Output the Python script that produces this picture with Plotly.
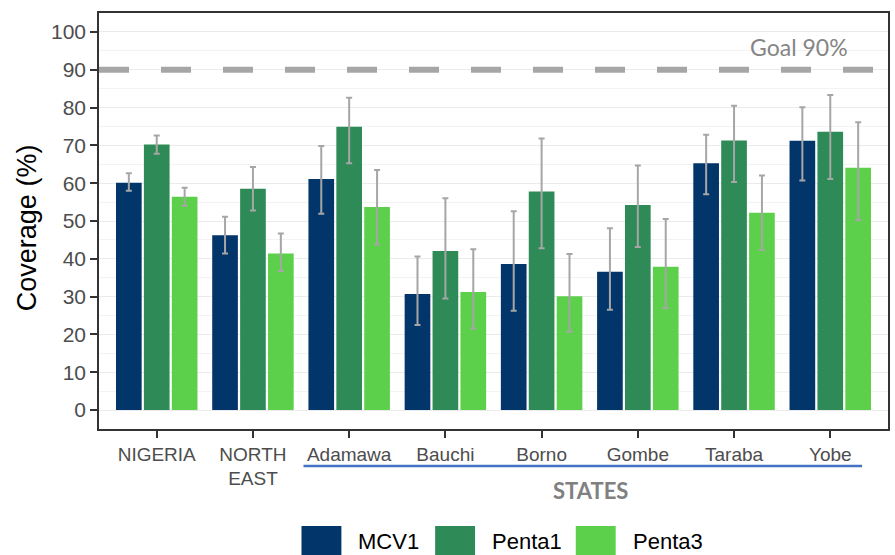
import plotly.graph_objects as go

# Coverage estimates (%) with 95% confidence bounds
categories = ["NIGERIA", "NORTH<br>EAST", "Adamawa", "Bauchi", "Borno", "Gombe", "Taraba", "Yobe"]
series_names = ["MCV1", "Penta1", "Penta3"]
series_colors = ["#02356a", "#2e8b57", "#5dd04b"]

mcv1 = [60.1, 46.2, 61.1, 30.7, 38.6, 36.6, 65.3, 71.2]
mcv1_hi = [62.6, 51.1, 69.8, 40.6, 52.6, 48.1, 72.8, 80.1]
mcv1_lo = [58.0, 41.4, 51.9, 22.5, 26.3, 26.5, 57.1, 60.7]

penta1 = [70.2, 58.5, 74.9, 42.1, 57.8, 54.2, 71.3, 73.6]
penta1_hi = [72.6, 64.3, 82.6, 56.0, 71.8, 64.7, 80.5, 83.3]
penta1_lo = [67.8, 52.8, 65.3, 29.5, 42.8, 43.1, 60.3, 61.1]

penta3 = [56.4, 41.4, 53.7, 31.2, 30.1, 37.9, 52.2, 64.1]
penta3_hi = [58.8, 46.7, 63.5, 42.5, 41.3, 50.5, 62.0, 76.1]
penta3_lo = [54.0, 36.8, 43.8, 21.6, 20.7, 26.9, 42.3, 50.2]

goal = 90
goal_label = "Goal 90%"
y_ticks = [0, 10, 20, 30, 40, 50, 60, 70, 80, 90, 100]
group_label = "STATES"
y_title = "Coverage (%)"

values = [mcv1, penta1, penta3]
highs = [mcv1_hi, penta1_hi, penta3_hi]
lows = [mcv1_lo, penta1_lo, penta3_lo]

W, H = 895, 555
ML, MR, MT, MB = 99, 5, 13, 126
PW, PH = W - ML - MR, H - MT - MB


def px_x(px):
    return (px - ML) / PW


def px_y(py):
    return (H - MB - py) / PH


fig = go.Figure()
for name, color, v, hi, lo in zip(series_names, series_colors, values, highs, lows):
    fig.add_trace(go.Bar(
        x=categories,
        y=v,
        name=name,
        marker=dict(color=color, line=dict(width=0)),
        error_y=dict(
            type="data",
            symmetric=False,
            array=[h - m for h, m in zip(hi, v)],
            arrayminus=[m - l for m, l in zip(v, lo)],
            color="#a6a6a6",
            thickness=2,
            width=3,
        ),
        showlegend=False,
    ))

shapes = [
    # 90% target line
    dict(type="line", xref="paper", yref="y", x0=0, x1=1, y0=goal, y1=goal,
         line=dict(color="#a6a6a6", width=6, dash="30px,32px"), layer="above"),
    # underline grouping the states
    dict(type="line", xref="paper", yref="paper", x0=px_x(304), x1=px_x(864),
         y0=px_y(466), y1=px_y(466), line=dict(color="#4472c4", width=2.5)),
]

annotations = [
    dict(text=goal_label, xref="paper", yref="paper", x=px_x(801), y=px_y(47),
         showarrow=False, font=dict(family="Lato", size=23, color="#858585"),
         xanchor="center", yanchor="middle"),
    dict(text=group_label, xref="paper", yref="paper", x=px_x(592), y=px_y(490),
         showarrow=False, font=dict(family="Lato", size=22, color="#808080", weight="bold"),
         xanchor="center", yanchor="middle"),
    dict(text=y_title, xref="paper", yref="paper", x=px_x(27), y=px_y(228),
         showarrow=False, textangle=-90,
         font=dict(family="Arial, Liberation Sans", size=27, color="#000000"),
         xanchor="center", yanchor="middle"),
]

# legend keys drawn below the chart
key_left = [302, 436, 577]
for name, color, kx in zip(series_names, series_colors, key_left):
    shapes.append(dict(type="rect", xref="paper", yref="paper",
                       x0=px_x(kx), x1=px_x(kx + 40), y0=px_y(526), y1=px_y(570),
                       fillcolor=color, line=dict(width=0)))
    annotations.append(dict(text=name, xref="paper", yref="paper",
                            x=px_x(kx + 55), y=px_y(541), showarrow=False,
                            xanchor="left", yanchor="middle",
                            font=dict(family="Arial, Liberation Sans", size=22, color="#000000")))

fig.update_layout(
    width=W, height=H,
    margin=dict(l=ML, r=MR, t=MT, b=MB, pad=0),
    paper_bgcolor="white",
    plot_bgcolor="white",
    barmode="group",
    bargap=0.13,
    bargroupgap=0.08,
    shapes=shapes,
    annotations=annotations,
    font=dict(family="Arial, Liberation Sans"),
)

fig.update_xaxes(
    range=[-0.6, len(categories) - 0.4],
    showgrid=False,
    showline=True, mirror=True, linecolor="#333333", linewidth=1.5,
    ticks="outside", ticklen=7, tickwidth=1.5, tickcolor="#333333",
    tickfont=dict(family="Arial, Liberation Sans", size=19, color="#4d4d4d"),
    tickangle=0,
)

fig.update_yaxes(
    range=[-5, 105],
    tickvals=y_ticks,
    showgrid=True, gridcolor="#ebebeb", gridwidth=1,
    minor=dict(dtick=5, tick0=5, showgrid=True, gridcolor="#f3f3f3", gridwidth=1),
    zeroline=False,
    showline=True, mirror=True, linecolor="#333333", linewidth=1.5,
    ticks="outside", ticklen=7, tickwidth=1.5, tickcolor="#333333",
    tickfont=dict(family="Arial, Liberation Sans", size=21, color="#4d4d4d"),
)

fig.write_html("out.html")
